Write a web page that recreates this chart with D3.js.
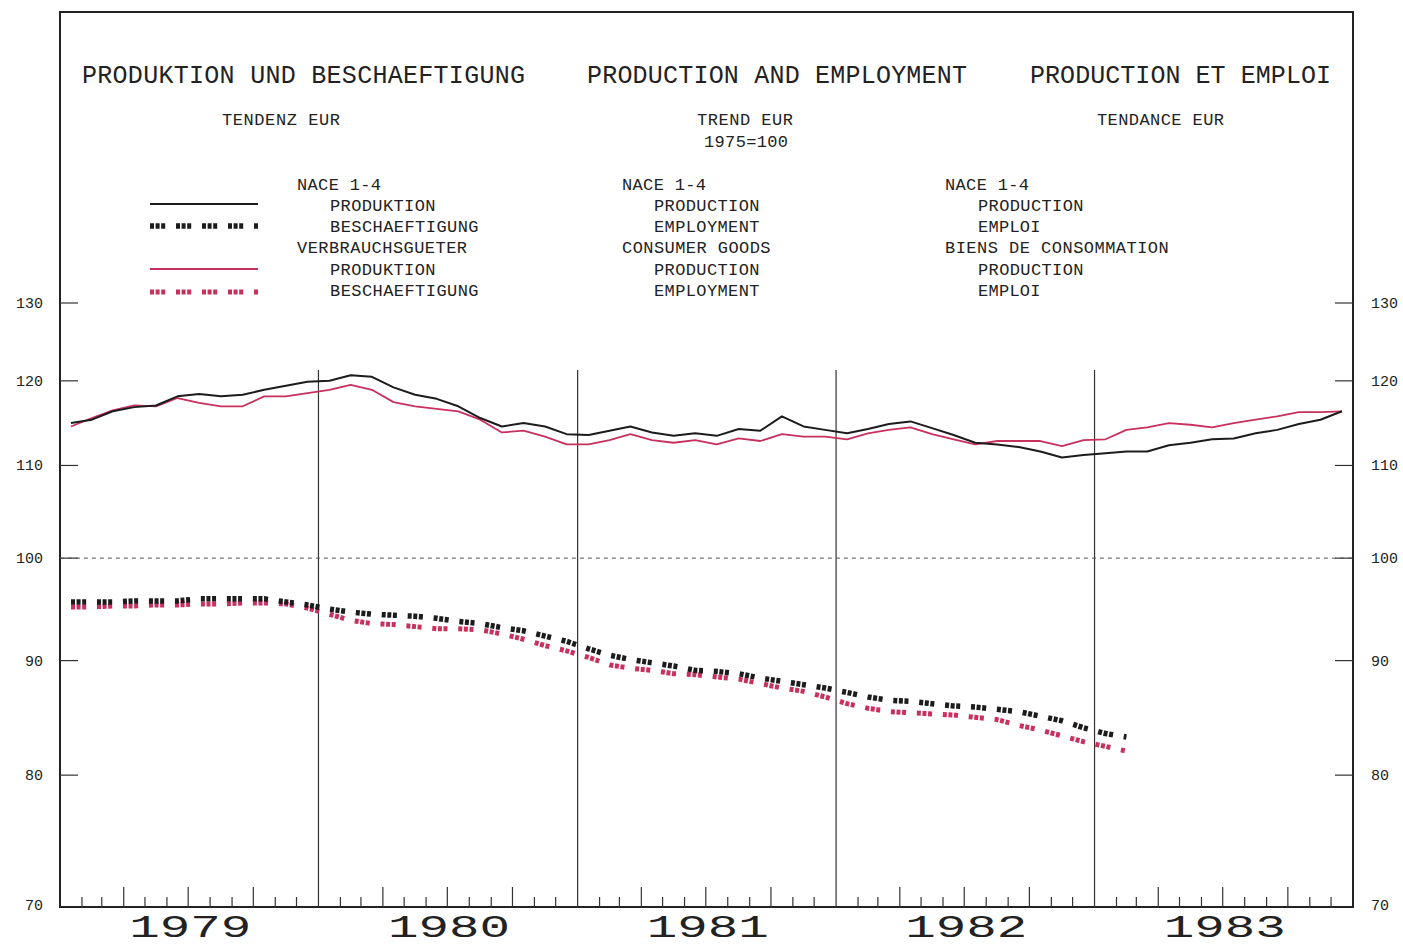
<!DOCTYPE html>
<html><head><meta charset="utf-8">
<script src="https://cdn.jsdelivr.net/npm/d3@7/dist/d3.min.js"></script>
<style>
html,body{margin:0;padding:0;background:#fff;}
svg{display:block;}
text{font-family:"Liberation Mono","DejaVu Sans Mono",monospace;fill:#222;}
</style></head>
<body>
<svg id="chart" width="1403" height="947"></svg>
<script>
// ---- data (monthly, Jan 1979 onwards, 1975=100) ----
const years = ["1979","1980","1981","1982","1983"];
const yTicks = [70,80,90,100,110,120,130];
// NACE 1-4 production (60 months)
const prodNace = [114.9,115.3,116.3,116.8,117.0,118.1,118.4,118.1,118.3,118.9,119.4,119.9,
  120.0,120.7,120.5,119.2,118.3,117.8,116.9,115.5,114.5,114.9,114.5,113.6,
  113.5,114.0,114.5,113.8,113.4,113.7,113.4,114.2,114.0,115.7,114.5,114.1,
  113.7,114.2,114.8,115.1,114.3,113.5,112.6,112.4,112.1,111.6,110.9,111.2,
  111.4,111.6,111.6,112.3,112.6,113.0,113.1,113.7,114.1,114.8,115.3,116.3];
// Consumer goods production
const prodCons = [114.5,115.5,116.4,117.0,116.9,117.9,117.3,116.9,116.9,118.1,118.1,118.5,
  118.9,119.5,118.9,117.4,116.9,116.6,116.3,115.3,113.8,114.0,113.3,112.4,
  112.4,112.9,113.6,112.9,112.6,112.9,112.4,113.1,112.8,113.6,113.3,113.3,
  113.0,113.7,114.1,114.4,113.6,113.0,112.4,112.8,112.8,112.8,112.2,112.9,
  113.0,114.1,114.4,114.9,114.7,114.4,114.9,115.3,115.7,116.2,116.2,116.3];
// NACE 1-4 employment (50 months)
const emplNace = [95.6,95.6,95.6,95.7,95.7,95.7,95.9,95.9,95.9,95.9,95.6,95.3,
  94.9,94.6,94.4,94.3,94.2,94.0,93.7,93.5,93.1,92.8,92.3,91.8,
  91.1,90.5,90.1,89.8,89.5,89.1,89.0,88.8,88.4,88.1,87.8,87.5,
  87.1,86.7,86.4,86.3,86.1,85.9,85.8,85.6,85.4,85.0,84.6,84.0,
  83.5,83.2];
// Consumer goods employment
const emplCons = [95.1,95.1,95.2,95.2,95.3,95.3,95.4,95.4,95.5,95.5,95.4,95.0,
  94.4,93.8,93.5,93.4,93.2,93.0,93.0,92.9,92.5,92.0,91.4,90.9,
  90.3,89.6,89.3,89.1,88.8,88.7,88.5,88.3,87.9,87.5,87.2,86.7,
  86.1,85.7,85.4,85.3,85.2,85.1,84.9,84.7,84.2,83.8,83.3,82.8,
  82.4,82.0];

// ---- texts ----
const titles = ["PRODUKTION UND BESCHAEFTIGUNG","PRODUCTION AND EMPLOYMENT","PRODUCTION ET EMPLOI"];
const subtitles = ["TENDENZ EUR","TREND EUR","TENDANCE EUR"];
const baseNote = "1975=100";
const legendDE = ["NACE 1-4","PRODUKTION","BESCHAEFTIGUNG","VERBRAUCHSGUETER","PRODUKTION","BESCHAEFTIGUNG"];
const legendEN = ["NACE 1-4","PRODUCTION","EMPLOYMENT","CONSUMER GOODS","PRODUCTION","EMPLOYMENT"];
const legendFR = ["NACE 1-4","PRODUCTION","EMPLOI","BIENS DE CONSOMMATION","PRODUCTION","EMPLOI"];

const BLACK = "#1c1c1c", RED = "#c8305e";
const svg = d3.select("#chart");
const L = 60, R = 1353, T = 12, B = 907;

const x = d3.scaleTime().domain([new Date(1979,0,1), new Date(1984,0,1)]).range([L, R]);
const y = d3.scaleLog().domain([70,130]).range([905, 303]);

const monthStarts = d3.timeMonth.range(new Date(1979,0,1), new Date(1984,0,1));
const mid = i => (x(monthStarts[i]) + x(d3.timeMonth.offset(monthStarts[i],1))) / 2;

// frame
svg.append("rect").attr("x",L).attr("y",T).attr("width",R-L).attr("height",B-T)
  .attr("fill","none").attr("stroke","#222").attr("stroke-width",2);

// year divider lines
years.slice(1).forEach((yr) => {
  const xx = x(new Date(+yr,0,1));
  svg.append("line").attr("x1",xx).attr("x2",xx).attr("y1",370).attr("y2",B)
    .attr("stroke","#333").attr("stroke-width",1.2);
});

// month ticks
monthStarts.forEach((d,i) => {
  if (i === 0) return;
  const m = d.getMonth();
  if (m === 0) return;
  const h = (m % 3 === 0) ? 20 : 10;
  const xx = x(d);
  svg.append("line").attr("x1",xx).attr("x2",xx).attr("y1",B).attr("y2",B-h)
    .attr("stroke","#333").attr("stroke-width",1.2);
});

function spaced(t, x0, x1, yb, fs, adj) {
  return svg.append("text").attr("x",x0).attr("y",yb).attr("font-size",fs)
    .attr("textLength", x1-x0).attr("lengthAdjust", adj || "spacing").text(t);
}
// year labels
years.forEach((yr) => {
  const xa = x(new Date(+yr,0,1)), xb = x(new Date(+yr+1,0,1));
  const c = (xa+xb)/2;
  svg.append("text").attr("x",c-60).attr("y",937).attr("font-size",32)
    .attr("textLength",122).attr("lengthAdjust","spacingAndGlyphs").text(yr);
});

// y ticks and labels
yTicks.forEach(v => {
  const yy = y(v);
  if (v !== 70) {
    svg.append("line").attr("x1",L).attr("x2",L+18).attr("y1",yy).attr("y2",yy).attr("stroke","#333").attr("stroke-width",1.2);
    svg.append("line").attr("x1",R-18).attr("x2",R).attr("y1",yy).attr("y2",yy).attr("stroke","#333").attr("stroke-width",1.2);
  }
  svg.append("text").attr("x",43).attr("y",yy+5).attr("font-size",15).attr("text-anchor","end").text(v);
  svg.append("text").attr("x",1371).attr("y",yy+5).attr("font-size",15).text(v);
});

// 100 reference line
svg.append("line").attr("x1",L).attr("x2",R).attr("y1",y(100)).attr("y2",y(100))
  .attr("stroke","#555").attr("stroke-width",1).attr("stroke-dasharray","4,4");

// lines
const lineGen = d3.line().x((d,i)=>mid(i)).y(d=>y(d));
const DOTS = "4,1.6,4,1.6,4,10.8";
svg.append("path").datum(emplCons).attr("d",lineGen).attr("fill","none")
  .attr("stroke",RED).attr("stroke-width",5).attr("stroke-dasharray",DOTS);
svg.append("path").datum(emplNace).attr("d",lineGen).attr("fill","none")
  .attr("stroke",BLACK).attr("stroke-width",5.5).attr("stroke-dasharray",DOTS);
svg.append("path").datum(prodCons).attr("d",lineGen).attr("fill","none")
  .attr("stroke",RED).attr("stroke-width",1.8).attr("stroke-linejoin","round");
svg.append("path").datum(prodNace).attr("d",lineGen).attr("fill","none")
  .attr("stroke",BLACK).attr("stroke-width",2).attr("stroke-linejoin","round");

// titles
spaced(titles[0], 82, 525, 83, 25);
spaced(titles[1], 587, 967, 83, 25);
spaced(titles[2], 1030, 1331, 83, 25);
spaced(subtitles[0], 222, 340, 125, 17);
spaced(subtitles[1], 697, 793, 125, 17);
spaced(baseNote, 704, 788, 147, 17);
spaced(subtitles[2], 1097, 1224, 125, 17);

// legend text
const rowsY = [190,211,232,253,275,296];
const CW = 10.75;
function legendCol(arr, xOuter, xInner) {
  arr.forEach((t,i) => {
    const x0 = (i===0 || i===3) ? xOuter : xInner;
    spaced(t, x0, x0 + t.length*CW - 2, rowsY[i], 17);
  });
}
legendCol(legendDE, 297, 330);
legendCol(legendEN, 622, 654);
legendCol(legendFR, 945, 978);

// legend samples
const samples = [
  {yy:204, c:BLACK, w:2, dash:null},
  {yy:226, c:BLACK, w:5.5, dash:DOTS},
  {yy:269, c:RED, w:1.8, dash:null},
  {yy:292, c:RED, w:5, dash:DOTS}
];
samples.forEach(s => {
  const l = svg.append("line").attr("x1",150).attr("x2",258).attr("y1",s.yy).attr("y2",s.yy)
    .attr("stroke",s.c).attr("stroke-width",s.w);
  if (s.dash) l.attr("stroke-dasharray",s.dash);
});
</script>
</body></html>
